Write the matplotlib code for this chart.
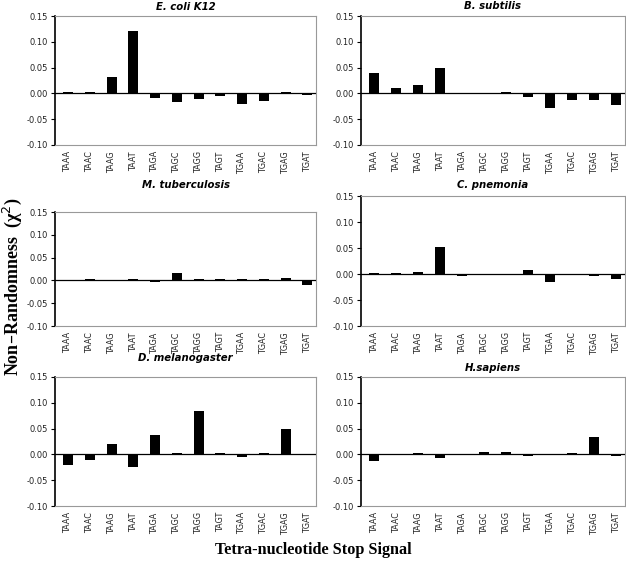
import matplotlib
matplotlib.use("Agg")
import matplotlib.pyplot as plt
import numpy as np

categories = ["TAAA", "TAAC", "TAAG", "TAAT", "TAGA", "TAGC", "TAGG", "TAGT",
              "TGAA", "TGAC", "TGAG", "TGAT"]

ecoli = [0.002, 0.003, 0.031, 0.120, -0.008, -0.017, -0.011, -0.005, -0.020, -0.015, 0.002, -0.003]
bsubtilis = [0.040, 0.010, 0.016, 0.049, -0.002, -0.002, 0.002, -0.007, -0.028, -0.012, -0.012, -0.022]
mtuber = [-0.002, 0.003, 0.0, 0.002, -0.004, 0.016, 0.002, 0.002, 0.002, 0.002, 0.005, -0.009]
cpnem = [0.002, 0.002, 0.004, 0.052, -0.003, 0.0, -0.002, 0.008, -0.015, 0.0, -0.003, -0.010]
dmel = [-0.021, -0.010, 0.021, -0.025, 0.038, 0.002, 0.085, 0.002, -0.006, 0.002, 0.049, -0.002]
hsap = [-0.012, 0.0, 0.002, -0.007, -0.002, 0.005, 0.005, -0.004, -0.002, 0.002, 0.033, -0.003]

titles = ["E. coli K12", "B. subtilis", "M. tuberculosis", "C. pnemonia",
          "D. melanogaster", "H.sapiens"]
series = [ecoli, bsubtilis, mtuber, cpnem, dmel, hsap]
yticks = [-0.10, -0.05, 0.00, 0.05, 0.10, 0.15]

W, H = 626, 569
fig = plt.figure(figsize=(W / 100, H / 100), dpi=100)

# pixel boxes: (left, top, right, bottom), title y in px
boxes = [
    ((55, 16, 316, 145), 7),
    ((361, 16, 625, 145), 6),
    ((55, 212, 316, 326), 185),
    ((361, 196, 625, 326), 185),
    ((55, 377, 316, 506), 358),
    ((361, 377, 625, 506), 368),
]

x = np.arange(len(categories))
for (box, ty), title, vals in zip(boxes, titles, series):
    l, t, r, b = box
    ax = fig.add_axes([l / W, 1 - b / H, (r - l) / W, (b - t) / H])
    ax.bar(x, vals, width=0.46, color="black", zorder=3)
    ax.axhline(0, color="black", lw=0.9, zorder=4)
    ax.set_xlim(-0.6, 11.4)
    ax.set_ylim(-0.10, 0.15)
    ax.set_yticks(yticks)
    ax.set_yticklabels([f"{v:.2f}" for v in yticks], fontsize=6, color="#222222")
    ax.set_xticks(x)
    ax.set_xticklabels(categories, rotation=90, fontsize=5.8, color="#222222")
    ax.tick_params(axis="x", length=0, pad=4.5)
    ax.tick_params(axis="y", length=3, width=0.8, direction="out", pad=2)
    for s in ["top", "right", "bottom"]:
        ax.spines[s].set_color("#999999")
        ax.spines[s].set_linewidth(0.8)
    ax.spines["left"].set_color("black")
    ax.spines["left"].set_linewidth(1.2)
    cx = (l + r) / 2 / W
    fig.text(cx, 1 - ty / H, title, ha="center", va="center", fontsize=7.3,
             style="italic", fontweight="bold", family="DejaVu Sans")

fig.text(12 / W, 1 - 287 / H, "Non\u2013Randomness  (\u03c7$^2$)", rotation=90,
         ha="center", va="center", fontsize=13, fontweight="bold",
         family="Liberation Serif")
fig.text(313 / W, 1 - 550 / H, "Tetra-nucleotide Stop Signal", ha="center",
         va="center", fontsize=11.7, fontweight="bold", family="Liberation Serif")

fig.savefig("out.png", dpi=100)
